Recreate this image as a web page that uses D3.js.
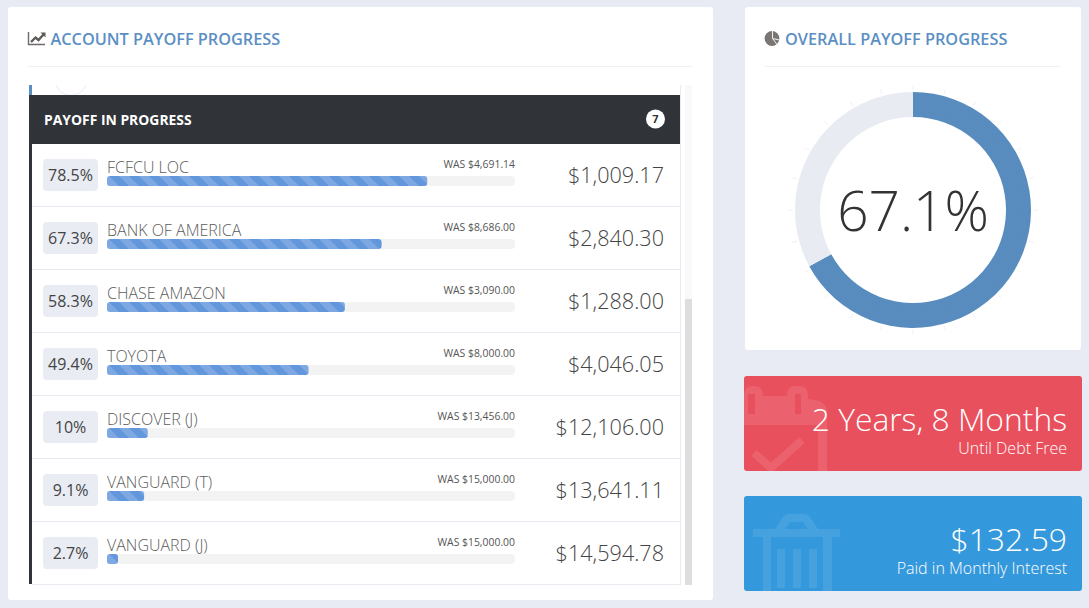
<!DOCTYPE html>
<html>
<head>
<meta charset="utf-8">
<title>Payoff progress</title>
<script src="https://cdn.jsdelivr.net/npm/d3@7"></script>
<style>
  html, body { margin: 0; padding: 0; background: #e8ebf3; overflow: hidden; }
  svg { display: block; }
  text { font-family: "Open Sans", sans-serif; }
</style>
</head>
<body>
<div id="chart"></div>
<script>
// values
var accountNames = ["FCFCU LOC", "BANK OF AMERICA", "CHASE AMAZON", "TOYOTA", "DISCOVER (J)", "VANGUARD (T)", "VANGUARD (J)"];
var progressPct = [78.5, 67.3, 58.3, 49.4, 10, 9.1, 2.7];
var wasAmounts = [4691.14, 8686.00, 3090.00, 8000.00, 13456.00, 15000.00, 15000.00];
var balances = [1009.17, 2840.30, 1288.00, 4046.05, 12106.00, 13641.11, 14594.78];
var overallValues = [67.1, 32.9];

var money = d3.format("$,.2f");
var svg = d3.select("#chart").append("svg").attr("width", 1089).attr("height", 608);
var defs = svg.append("defs");

// stripes on the progress bars
var stripe = defs.append("pattern").attr("id", "stripes").attr("patternUnits", "userSpaceOnUse")
  .attr("x", 107).attr("y", 0).attr("width", 20).attr("height", 20);
stripe.append("rect").attr("width", 20).attr("height", 20).attr("fill", "#6297dc");
stripe.append("path").attr("d", "M0 0H10L20 10V20ZM0 10L10 20H0Z").attr("fill", "#7ea8e2");

// fine dots on the dark header and the blue pieces
function dots(id, base, dot) {
  var p = defs.append("pattern").attr("id", id).attr("patternUnits", "userSpaceOnUse").attr("width", 3).attr("height", 3);
  p.append("rect").attr("width", 3).attr("height", 3).attr("fill", base);
  p.append("rect").attr("width", 1).attr("height", 1).attr("fill", dot);
}
dots("dotDark", "#303439", "#33373c");
dots("dotBlue", "#3498dc", "#3799dc");
dots("dotDonut", "#588cbf", "#5b8ec0");

// cards
function card(x, y, w, h, fill) {
  svg.append("rect").attr("x", x).attr("y", y).attr("width", w).attr("height", h).attr("rx", 3).attr("fill", fill);
}
card(8, 7, 705, 593, "#fff");
card(745, 7, 336, 343, "#fff");
card(744, 376, 338, 95, "#e9505d");
card(744, 496, 338, 95, "url(#dotBlue)");

// card titles
function title(x, label) {
  svg.append("text").attr("x", x).attr("y", 45).attr("font-size", 16.3).attr("font-weight", 600)
    .attr("fill", "#5b8fc4").text(label);
}
title(50.5, "ACCOUNT PAYOFF PROGRESS");
title(785, "OVERALL PAYOFF PROGRESS");
svg.append("line").attr("x1", 28).attr("x2", 692).attr("y1", 66.5).attr("y2", 66.5).attr("stroke", "#eff1f5");
svg.append("line").attr("x1", 765).attr("x2", 1061).attr("y1", 66.5).attr("y2", 66.5).attr("stroke", "#eff1f5");

// line chart icon
svg.append("path").attr("d", "M28.5 32V44.5H45").attr("fill", "none").attr("stroke", "#706a68").attr("stroke-width", 1.4);
svg.append("path").attr("d", "M31 42L35.5 37.5L38.5 40L43.5 34.5").attr("fill", "none").attr("stroke", "#5f5a58").attr("stroke-width", 2.4);
svg.append("path").attr("d", "M40.5 32.5H45.5V37.5Z").attr("fill", "#5f5a58");

// pie icon
svg.append("circle").attr("cx", 772).attr("cy", 38.5).attr("r", 7.4).attr("fill", "#7a7674");
svg.append("path").attr("d", "M772.5 31V38.5L779.5 40").attr("fill", "none").attr("stroke", "#fff").attr("stroke-width", 0.9);
svg.append("path").attr("d", "M773 39L777 44.5").attr("fill", "none").attr("stroke", "#fff").attr("stroke-width", 0.9);

// list frame, scrolled part at the top
var rowTop = 144, rowH = 63;
svg.append("rect").attr("x", 29).attr("y", 85).attr("width", 3).attr("height", 10).attr("fill", "#5b8fc4");
svg.append("path").attr("d", "M56 85A16 16 0 0 0 86 85").attr("fill", "none").attr("stroke", "#e8ebf3");
svg.append("rect").attr("x", 29).attr("y", 144).attr("width", 3).attr("height", 440).attr("fill", "#30343a");
svg.append("line").attr("x1", 680.5).attr("x2", 680.5).attr("y1", 85).attr("y2", 585).attr("stroke", "#e8ebf3");

// scrollbar
svg.append("rect").attr("x", 685).attr("y", 85).attr("width", 7).attr("height", 500).attr("fill", "#f9f9f9");
svg.append("rect").attr("x", 685).attr("y", 299).attr("width", 7).attr("height", 286).attr("fill", "#dedede");

// header
svg.append("rect").attr("x", 29).attr("y", 95).attr("width", 651).attr("height", 49).attr("fill", "url(#dotDark)");
svg.append("text").attr("x", 44).attr("y", 124.5).attr("font-size", 13.9).attr("font-weight", 700).attr("fill", "#fff").text("PAYOFF IN PROGRESS");
svg.append("circle").attr("cx", 655.5).attr("cy", 119).attr("r", 9.5).attr("fill", "#fff");
svg.append("text").attr("x", 655.5).attr("y", 123).attr("font-size", 11).attr("font-weight", 700).attr("text-anchor", "middle").attr("fill", "#333").text(accountNames.length);

// rows
var xBar = d3.scaleLinear().domain([0, 100]).range([107, 515]);
var yRow = d3.scaleBand().domain(d3.range(accountNames.length)).range([rowTop, rowTop + rowH * accountNames.length]);

var rows = svg.selectAll("g.row").data(accountNames).join("g").attr("class", "row")
  .attr("transform", function(d, i) { return "translate(0," + yRow(i) + ")"; });

rows.append("line").attr("x1", 32).attr("x2", 680).attr("y1", rowH - 0.5).attr("y2", rowH - 0.5).attr("stroke", "#e8ebf1");
rows.append("rect").attr("x", 43).attr("y", 15).attr("width", 55).attr("height", 32).attr("rx", 4).attr("fill", "#e9ecf3");
rows.append("text").attr("x", 70.5).attr("y", 37).attr("text-anchor", "middle").attr("font-size", 16).attr("fill", "#444")
  .text(function(d, i) { return progressPct[i] + "%"; });
rows.append("text").attr("x", 107).attr("y", 29).attr("font-size", 16).attr("font-weight", 300).attr("fill", "#5c5c5c").text(function(d) { return d; });
rows.append("rect").attr("x", xBar(0)).attr("y", 32).attr("width", xBar(100) - xBar(0)).attr("height", 10).attr("rx", 4).attr("fill", "#f3f3f3");
rows.append("rect").attr("x", xBar(0)).attr("y", 32).attr("height", 10).attr("rx", 3).attr("fill", "url(#stripes)")
  .attr("width", function(d, i) { return xBar(progressPct[i]) - xBar(0); });
rows.append("text").attr("x", 515).attr("y", 24).attr("text-anchor", "end").attr("font-size", 10.4).attr("fill", "#555")
  .text(function(d, i) { return "WAS " + money(wasAmounts[i]); });
rows.append("text").attr("x", 664).attr("y", 39).attr("text-anchor", "end").attr("font-size", 21.6).attr("font-weight", 300).attr("fill", "#444")
  .text(function(d, i) { return money(balances[i]); });

// donut
var donut = svg.append("g").attr("transform", "translate(913,210)");
var pie = d3.pie().sort(null);
var arc = d3.arc().innerRadius(93).outerRadius(118);
donut.selectAll("path").data(pie(overallValues)).join("path").attr("d", arc)
  .attr("fill", function(d, i) { return i === 0 ? "url(#dotDonut)" : "#e9ebf3"; });

var tickAngles = d3.range(0, 360, 15);
donut.selectAll("line").data(tickAngles).join("line")
  .attr("x1", function(d) { return 120 * Math.sin(d * Math.PI / 180); })
  .attr("y1", function(d) { return -120 * Math.cos(d * Math.PI / 180); })
  .attr("x2", function(d) { return 125 * Math.sin(d * Math.PI / 180); })
  .attr("y2", function(d) { return -125 * Math.cos(d * Math.PI / 180); })
  .attr("stroke", "#eef0f5");

donut.append("text").attr("y", 21).attr("text-anchor", "middle").attr("font-size", 55).attr("font-weight", 300).attr("fill", "#333").text(overallValues[0] + "%");

// calendar watermark
var calendar = svg.append("g").attr("fill", "none").attr("stroke", "#fff").attr("stroke-opacity", 0.1);
calendar.append("path").attr("stroke", "none").attr("fill", "#fff").attr("fill-opacity", 0.1).attr("fill-rule", "evenodd")
  .attr("d", "M744 425V396Q744 386 752 386H755Q763 386 763 396V396H787V396Q787 386 795 386H800Q808 386 808 396V399Q827 400 827 412V471H818V425ZM748 394V414H755V394ZM795 394V414H801V394Z");
calendar.append("path").attr("stroke-width", 8).attr("d", "M754 453L771 468L802 440");

// trash watermark
var trash = svg.append("g").attr("fill", "#fff").attr("fill-opacity", 0.09);
trash.append("path").attr("fill-rule", "evenodd")
  .attr("d", "M753 529H775L783 517Q785 514 789 514H804Q808 514 810 517L818 529H840V537H832V591H823V537H771V591H763V537H753ZM785 529H808L803 522H790Z");
trash.append("rect").attr("x", 777).attr("y", 549).attr("width", 8).attr("height", 39).attr("rx", 1);
trash.append("rect").attr("x", 793).attr("y", 549).attr("width", 8).attr("height", 39).attr("rx", 1);
trash.append("rect").attr("x", 809).attr("y", 549).attr("width", 8).attr("height", 39).attr("rx", 1);

// stat text
function stat(y1, big, y2, small) {
  svg.append("text").attr("x", 1067).attr("y", y1).attr("text-anchor", "end").attr("font-size", 31.8).attr("font-weight", 300).attr("fill", "#fff").text(big);
  svg.append("text").attr("x", 1067).attr("y", y2).attr("text-anchor", "end").attr("font-size", 16).attr("font-weight", 300).attr("fill", "#fff").text(small);
}
stat(431, "2 Years, 8 Months", 454, "Until Debt Free");
stat(551, "$132.59", 574, "Paid in Monthly Interest");
</script>
</body>
</html>
